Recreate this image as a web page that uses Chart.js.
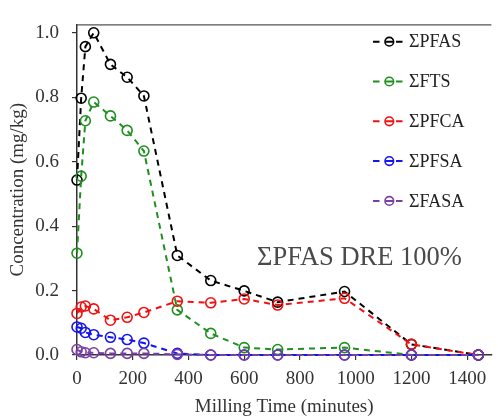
<!DOCTYPE html>
<html>
<head>
<meta charset="utf-8">
<script src="https://cdn.jsdelivr.net/npm/chart.js@4"></script>
<style>
    body { margin: 0; background: #fff; }
    canvas { display: block; }
</style>
</head>
<body>
<canvas id="grafico" width="498" height="417"></canvas>
<script>
const ctx = document.getElementById('grafico');

// milling time (minutes)
const tempos = [0, 15, 30, 60, 120, 180, 240, 360, 480, 600, 720, 960, 1200, 1440];

// concentracoes (mg/kg)
const pfas = [0.543, 0.797, 0.957, 1.0, 0.902, 0.862, 0.804, 0.309, 0.231, 0.199, 0.164, 0.197, 0.033, 0];
const fts  = [0.316, 0.555, 0.727, 0.785, 0.742, 0.697, 0.633, 0.140, 0.067, 0.023, 0.017, 0.023, 0, 0];
const pfca = [0.129, 0.149, 0.152, 0.143, 0.108, 0.117, 0.132, 0.167, 0.162, 0.174, 0.155, 0.176, 0.033, 0];
const pfsa = [0.087, 0.083, 0.070, 0.063, 0.055, 0.048, 0.037, 0.005, 0, 0, 0, 0, 0, 0];
const fasa = [0.017, 0.010, 0.007, 0.007, 0.005, 0.005, 0.005, 0.002, 0, 0, 0, 0, 0, 0];

const nomes = ['\u03A3PFAS', '\u03A3FTS', '\u03A3PFCA', '\u03A3PFSA', '\u03A3FASA'];
const cores = ['#000000', '#1f8f1f', '#f01010', '#1414f0', '#7a3fa6'];
const series = [pfas, fts, pfca, pfsa, fasa];

const yTicks = [0, 0.2, 0.4, 0.6, 0.8, 1.0];
const xTicks = [0, 200, 400, 600, 800, 1000, 1200, 1400];

const fonte = "'Liberation Serif', 'Times New Roman', serif";

const pontos = (valores) => tempos.map((t, i) => ({ x: t, y: valores[i] }));

const datasets = series.map((valores, i) => ({
    label: nomes[i],
    data: pontos(valores),
    borderColor: cores[i],
    backgroundColor: 'rgba(0,0,0,0)',
    borderWidth: 2,
    borderDash: [6, 5],
    pointRadius: 5,
    pointBorderWidth: 1.6,
    pointBackgroundColor: 'rgba(0,0,0,0)',
    pointBorderColor: cores[i],
    tension: 0,
    clip: false,
    order: series.length - i
}));

// legenda e texto desenhados a mao
const extras = {
    id: 'extras',
    afterDraw: (chart) => {
        const c = chart.ctx;
        const area = chart.chartArea;
        c.save();
        // linha de cima do quadro
        c.strokeStyle = '#555';
        c.lineWidth = 1.2;
        c.beginPath();
        c.moveTo(area.left, area.top + 0.5);
        c.lineTo(area.right, area.top + 0.5);
        c.stroke();

        nomes.forEach((nome, i) => {
            const y = 41.7 + i * 39.8;
            c.strokeStyle = cores[i];
            c.lineWidth = 2;
            c.setLineDash([]);
            c.beginPath();
            c.moveTo(373, y); c.lineTo(379.5, y);
            c.moveTo(385.5, y); c.lineTo(393, y);
            c.moveTo(396, y); c.lineTo(402.5, y);
            c.stroke();
            c.lineWidth = 1.6;
            c.beginPath();
            c.arc(389.3, y, 4.3, 0, Math.PI * 2);
            c.stroke();
            c.fillStyle = '#222';
            c.font = '18px ' + fonte;
            c.textBaseline = 'middle';
            c.textAlign = 'left';
            c.fillText(nome, 409, y + 1);
        });

        c.fillStyle = '#4a4a4a';
        c.font = '26.5px ' + fonte;
        c.textBaseline = 'alphabetic';
        c.textAlign = 'left';
        c.fillText('\u03A3PFAS DRE 100%', 257, 265);
        c.restore();
    }
};

new Chart(ctx, {
    type: 'line',
    data: { datasets: datasets },
    options: {
        responsive: false,
        animation: false,
        layout: { padding: { top: 12, left: 0, right: 0, bottom: 0 } },
        plugins: {
            legend: { display: false },
            tooltip: { enabled: false }
        },
        scales: {
            x: {
                type: 'linear',
                min: 0,
                max: 1487,
                afterBuildTicks: (scale) => { scale.ticks = xTicks.map(v => ({ value: v })); },
                afterFit: (scale) => { scale.height = 62; },
                grid: { display: true, drawOnChartArea: false, drawTicks: true, tickLength: 5, color: '#333', lineWidth: 1.2 },
                border: { display: true, color: '#333', width: 1.5 },
                ticks: {
                    color: '#333',
                    font: { family: fonte, size: 19 },
                    padding: 8,
                    maxRotation: 0,
                    callback: (v) => String(v)
                },
                title: {
                    display: true,
                    text: 'Milling Time (minutes)',
                    color: '#333',
                    font: { family: fonte, size: 19, lineHeight: 1 },
                    padding: { top: 0, bottom: 0 }
                }
            },
            y: {
                type: 'linear',
                min: 0,
                max: 1.026,
                afterBuildTicks: (scale) => { scale.ticks = yTicks.map(v => ({ value: v })); },
                afterFit: (scale) => { scale.width = 77; },
                grid: { display: true, drawOnChartArea: false, drawTicks: true, tickLength: 5, color: '#333', lineWidth: 1.2 },
                border: { display: true, color: '#333', width: 1.5 },
                ticks: {
                    color: '#333',
                    font: { family: fonte, size: 19 },
                    padding: 13,
                    callback: (v) => v.toFixed(1)
                },
                title: {
                    display: true,
                    text: 'Concentration (mg/kg)',
                    color: '#333',
                    font: { family: fonte, size: 19, lineHeight: 1.2 },
                    padding: { top: 7, bottom: 0 }
                }
            }
        }
    },
    plugins: [extras]
});
</script>
</body>
</html>
